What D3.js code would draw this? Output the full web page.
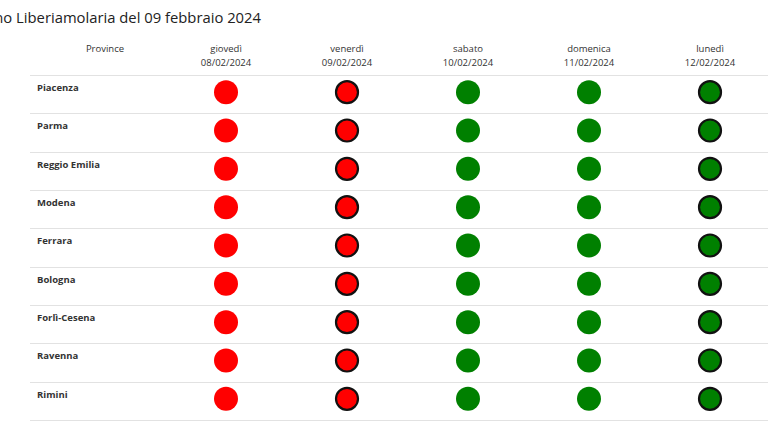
<!DOCTYPE html>
<html><head><meta charset="utf-8">
<script src="https://cdn.jsdelivr.net/npm/d3@7"></script>
<style>body{margin:0;background:#fff;font-family:"Open Sans",sans-serif}</style>
</head><body><svg id="c" width="768" height="432"></svg>
<script>
const title = "Bollettino Liberiamolaria del 09 febbraio 2024";
const provinces = ["Piacenza","Parma","Reggio Emilia","Modena","Ferrara","Bologna","Forlì-Cesena","Ravenna","Rimini"];
const dayNames = ["giovedì","venerdì","sabato","domenica","lunedì"];
const dayDates = ["08/02/2024","09/02/2024","10/02/2024","11/02/2024","12/02/2024"];
const dayStatus = ["red","red","green","green","green"];   // same for every province
const dayHighlighted = [false,true,false,false,true];     // outlined circles
const colors = {red:"#ff0000", green:"#008000"};

const svg = d3.select("#c");
svg.append("text").attr("x",261).attr("y",23).attr("text-anchor","end")
  .attr("font-size",14.8).attr("fill","#222").text(title);

const cols = ["Province", ...dayNames];
const x = d3.scalePoint().domain(d3.range(cols.length)).range([105,710]);
const y = d3.scaleBand().domain(provinces).range([75,420]);

const hdr = svg.append("g").attr("font-size",9.5).attr("fill","#333").attr("text-anchor","middle");
cols.forEach((c,i)=>{
  hdr.append("text").attr("x",x(i)).attr("y",52).text(c);
  if(i>0) hdr.append("text").attr("x",x(i)).attr("y",66).text(dayDates[i-1]);
});

svg.append("line").attr("x1",30).attr("x2",768).attr("y1",75.5).attr("y2",75.5).attr("stroke","#e2e2e2");
const rows = svg.selectAll("g.row").data(provinces).join("g").attr("class","row");
rows.append("line").attr("x1",30).attr("x2",768)
  .attr("y1",d=>Math.round(y(d)+y.bandwidth())+0.5).attr("y2",d=>Math.round(y(d)+y.bandwidth())+0.5)
  .attr("stroke","#e2e2e2");
rows.append("text").attr("x",37).attr("y",d=>y(d)+16).attr("font-size",9.5)
  .attr("font-weight","bold").attr("fill","#333").text(d=>d);
rows.each(function(p){
  d3.select(this).selectAll("circle").data(dayStatus).join("circle")
    .attr("cx",(s,i)=>x(i+1)).attr("cy",y(p)+y.bandwidth()/2-2)
    .attr("r",(s,i)=>dayHighlighted[i]?11:12)
    .attr("fill",s=>colors[s])
    .attr("stroke",(s,i)=>dayHighlighted[i]?"#111":"none")
    .attr("stroke-width",2.2);
});
</script></body></html>
